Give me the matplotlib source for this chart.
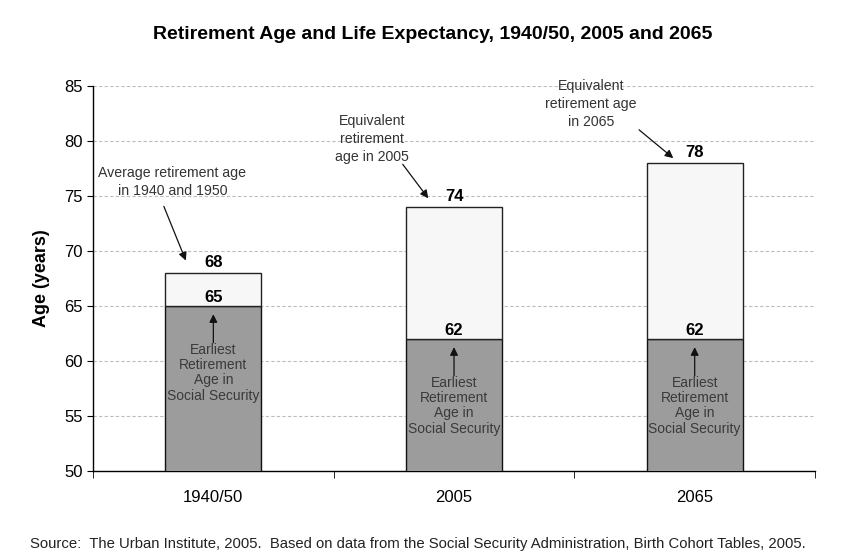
import matplotlib
matplotlib.use("Agg")
import matplotlib.pyplot as plt

categories = ['1940/50', '2005', '2065']
earliest_age = [65, 62, 62]
equivalent_age = [68, 74, 78]
top_notes = ['Average retirement age\nin 1940 and 1950',
             'Equivalent\nretirement\nage in 2005',
             'Equivalent\nretirement age\nin 2065']
bottom_note = 'Earliest\nRetirement\nAge in\nSocial Security'
y_ticks = [50, 55, 60, 65, 70, 75, 80, 85]

plt.rcParams['font.family'] = ['Liberation Sans', 'DejaVu Sans']

fig = plt.figure(figsize=(8.41, 5.57), dpi=100)
ax = fig.add_axes([0.1106, 0.155, 0.8585, 0.69])

x = list(range(len(categories)))
w = 0.4
ax.bar(x, earliest_age, width=w, color='#9c9c9c', edgecolor='#111111', linewidth=1.0, zorder=3)
ax.bar(x, [e - s for e, s in zip(equivalent_age, earliest_age)], bottom=earliest_age,
       width=w, color='#f7f7f7', edgecolor='#222222', linewidth=1.0, zorder=3)

ax.set_xlim(-0.5, 2.5)
ax.set_ylim(50, 85)
ax.set_yticks(y_ticks)
ax.set_xticks(x)
ax.set_xticklabels(categories, fontsize=12)
ax.tick_params(axis='y', labelsize=12, length=4, direction='out')
ax.tick_params(axis='x', length=0, pad=14)
ax.set_xticks([-0.5, 0.5, 1.5, 2.5], minor=True)
ax.tick_params(axis='x', which='minor', length=5, direction='out')
for s in ['top', 'right']:
    ax.spines[s].set_visible(False)
ax.spines['left'].set_linewidth(1.0)
ax.spines['bottom'].set_linewidth(1.0)
ax.grid(axis='y', linestyle=(0, (3, 2)), color='#bdbdbd', linewidth=0.8, zorder=0)
ax.set_ylabel('Age (years)', fontsize=13, fontweight='bold', labelpad=10)

for xi, e, q in zip(x, earliest_age, equivalent_age):
    ax.annotate(str(q), (xi, q), xytext=(0, 2), textcoords='offset points',
                ha='center', va='bottom', fontsize=12, fontweight='bold', zorder=5)
    ax.annotate(str(e), (xi, e), xytext=(0, 1), textcoords='offset points',
                ha='center', va='bottom', fontsize=12, fontweight='bold', zorder=5)

note_pos = [(-0.17, 76.3), (-0.34, 80.2), (-0.43, 83.4)]
arrow_start = [(-0.21, 74.3), (-0.22, 78.1), (-0.24, 81.2)]
arrow_end = [(-0.11, 68.9), (-0.10, 74.6), (-0.08, 78.3)]
for xi, txt, (dx, ty), (sx, sy), (ex, ey) in zip(x, top_notes, note_pos, arrow_start, arrow_end):
    ax.text(xi + dx, ty, txt, ha='center', va='center', fontsize=10.2,
            color='#333333', linespacing=1.33, zorder=6)
    ax.annotate('', xy=(xi + ex, ey), xytext=(xi + sx, sy),
                arrowprops=dict(arrowstyle='-|>', color='#111111', lw=0.9,
                                mutation_scale=12), zorder=6)

for xi, e in zip(x, earliest_age):
    ax.annotate('', xy=(xi, e - 0.5), xytext=(xi, e - 3.6),
                arrowprops=dict(arrowstyle='-|>', color='#111111', lw=0.9,
                                mutation_scale=12), zorder=6)
    ax.text(xi, e - 6.1, bottom_note, ha='center', va='center', fontsize=10,
            color='#3a3a3a', linespacing=1.1, zorder=6)

fig.text(0.515, 0.938, 'Retirement Age and Life Expectancy, 1940/50, 2005 and 2065',
         ha='center', va='center', fontsize=14, fontweight='bold')
fig.text(0.497, 0.023,
         'Source:  The Urban Institute, 2005.  Based on data from the Social Security Administration, Birth Cohort Tables, 2005.',
         ha='center', va='center', fontsize=10.7, color='#222222')

fig.savefig('out.png', dpi=100)
